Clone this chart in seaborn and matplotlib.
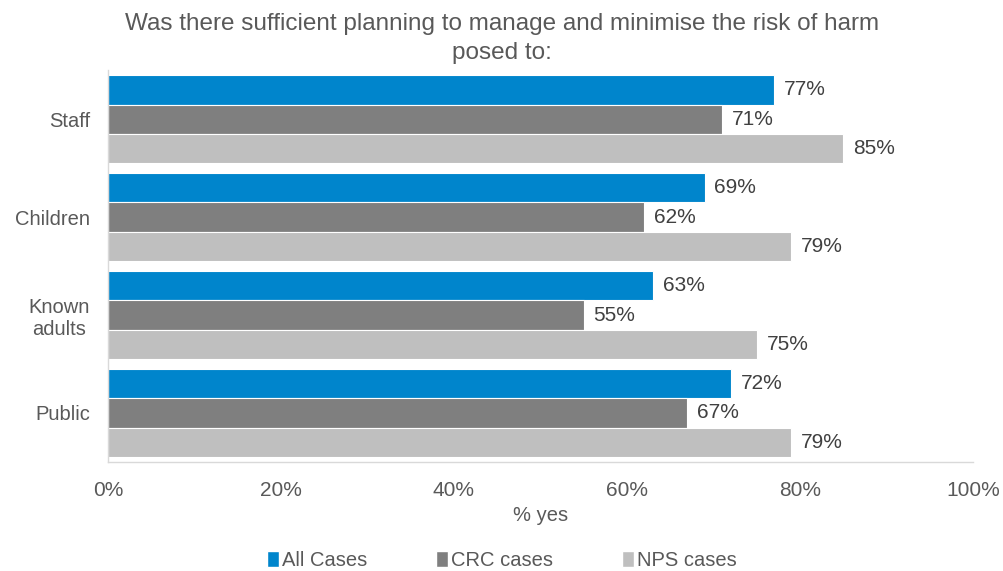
import matplotlib
matplotlib.use("Agg")
import matplotlib.pyplot as plt
import seaborn as sns
import pandas as pd
from matplotlib.patches import Patch

categories = ["Staff", "Children", "Known\nadults", "Public"]
series = ["All Cases", "CRC cases", "NPS cases"]
all_cases = [77, 69, 63, 72]
crc_cases = [71, 62, 55, 67]
nps_cases = [85, 79, 75, 79]
x_ticks = [0, 20, 40, 60, 80, 100]
x_tick_labels = ["0%", "20%", "40%", "60%", "80%", "100%"]
colors = ["#0085CC", "#7F7F7F", "#BFBFBF"]

rows = []
for name, vals in zip(series, [all_cases, crc_cases, nps_cases]):
    for c, v in zip(categories, vals):
        rows.append({"category": c, "series": name, "value": v})
df = pd.DataFrame(rows)

sns.set_theme(style="white")
plt.rcParams["font.family"] = ["Liberation Sans", "DejaVu Sans"]

fig = plt.figure(figsize=(10.04, 5.71), dpi=100)
ax = fig.add_axes([0.1076, 0.191, 0.8614, 0.686])

sns.barplot(data=df, y="category", x="value", hue="series", order=categories,
            hue_order=series, palette=colors, saturation=1, orient="h", width=0.9,
            edgecolor="white", linewidth=0.8, ax=ax, legend=False)

for cont in ax.containers:
    ax.bar_label(cont, labels=[f"{int(round(v))}%" for v in cont.datavalues],
                 padding=7, fontsize=15, color="#404040")

ax.set_xlim(0, 100)
ax.set_xticks(x_ticks)
ax.set_xticklabels(x_tick_labels, fontsize=15, color="#595959")
ax.tick_params(axis="y", labelsize=14.5, labelcolor="#595959", length=0, pad=13)
ax.tick_params(axis="x", length=0, pad=14)
ax.set_ylabel("")
ax.set_xlabel("% yes", fontsize=14.5, color="#595959", labelpad=4)
for lab in ax.get_yticklabels():
    lab.set_multialignment("center")

for s in ["top", "right"]:
    ax.spines[s].set_visible(False)
for s in ["left", "bottom"]:
    ax.spines[s].set_color("#D9D9D9")
    ax.spines[s].set_linewidth(1)

fig.text(0.5, 0.978, "Was there sufficient planning to manage and minimise the risk of harm\nposed to:",
         ha="center", va="top", fontsize=17.5, color="#595959", linespacing=1.45)

handles = [Patch(facecolor=c, label=s) for s, c in zip(series, colors)]
fig.legend(handles=handles, loc="lower center", bbox_to_anchor=(0.5, -0.03), ncol=3,
           frameon=False, fontsize=14.5, handlelength=0.6, handleheight=0.9,
           handletextpad=0.15, columnspacing=3.4, labelcolor="#595959")

fig.savefig("out.png", dpi=100)
